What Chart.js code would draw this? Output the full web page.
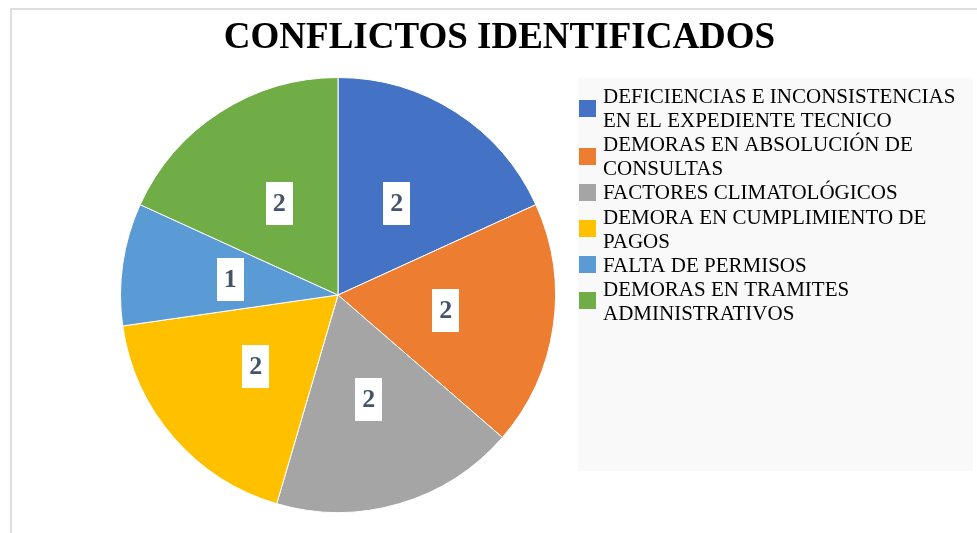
<!DOCTYPE html>
<html>
<head>
<meta charset="utf-8">
<script src="https://cdn.jsdelivr.net/npm/chart.js@4/dist/chart.umd.min.js"></script>
<style>
  html, body { margin: 0; padding: 0; background: #fff; }
  #wrap { position: relative; width: 977px; height: 533px; }
  #frame { position: absolute; left: 10px; top: 8px; right: 0; bottom: 0;
           border-top: 2px solid #dedede; border-left: 2px solid #dedede; }
  canvas { position: absolute; left: 0; top: 0; }
</style>
</head>
<body>
<div id="wrap">
  <div id="frame"></div>
  <canvas id="chart" width="977" height="533"></canvas>
</div>
<script>
const chartTitle = "CONFLICTOS IDENTIFICADOS";

// categories (already split the way the legend wraps them)
const categories = [
  ["DEFICIENCIAS E INCONSISTENCIAS", "EN EL EXPEDIENTE TECNICO"],
  ["DEMORAS EN ABSOLUCIÓN DE", "CONSULTAS"],
  ["FACTORES CLIMATOLÓGICOS"],
  ["DEMORA EN CUMPLIMIENTO DE", "PAGOS"],
  ["FALTA DE PERMISOS"],
  ["DEMORAS EN TRAMITES", "ADMINISTRATIVOS"]
];

const counts = [2, 2, 2, 2, 1, 2];

const sliceColors = ["#4472C4", "#ED7D31", "#A5A5A5", "#FFC000", "#5B9BD5", "#70AD47"];

const serif = '"Liberation Serif", "Times New Roman", serif';

// title, value boxes and the legend panel
const extrasPlugin = {
  id: "extras",
  afterDraw(chart) {
    const ctx = chart.ctx;
    ctx.save();

    // title
    ctx.font = "bold 37px " + serif;
    ctx.fillStyle = "#000";
    ctx.textAlign = "center";
    ctx.textBaseline = "alphabetic";
    ctx.fillText(chartTitle, 499.5, 48);

    // value labels in white boxes
    const meta = chart.getDatasetMeta(0);
    ctx.font = "bold 26px " + serif;
    ctx.textBaseline = "middle";
    meta.data.forEach((arc, i) => {
      const p = arc.tooltipPosition();
      const txt = String(chart.data.datasets[0].data[i]);
      const w = ctx.measureText(txt).width + 14;
      const h = 43;
      ctx.fillStyle = "#fff";
      ctx.fillRect(Math.round(p.x - w / 2), Math.round(p.y - h / 2), Math.round(w), h);
      ctx.fillStyle = "#44546A";
      ctx.fillText(txt, p.x, p.y + 1);
    });

    // legend panel
    ctx.fillStyle = "#f9f9f9";
    ctx.fillRect(578, 78, 395, 393);
    ctx.font = "21px " + serif;
    ctx.textAlign = "left";
    ctx.textBaseline = "alphabetic";
    const lineH = 24.1;
    let base = 103;
    chart.data.labels.forEach((lines, i) => {
      const first = base;
      lines.forEach(line => {
        ctx.fillStyle = "#000";
        ctx.fillText(line, 603, base);
        base += lineH;
      });
      const last = base - lineH;
      const mid = (first + last) / 2 - 7;
      ctx.fillStyle = sliceColors[i];
      ctx.fillRect(579, Math.round(mid - 8.5), 17, 17);
    });

    ctx.restore();
  }
};

new Chart(document.getElementById("chart"), {
  type: "pie",
  data: {
    labels: categories,
    datasets: [{
      data: counts,
      backgroundColor: sliceColors,
      borderColor: "#ffffff",
      borderWidth: 1
    }]
  },
  options: {
    responsive: false,
    animation: false,
    layout: { padding: { top: 77, bottom: 20, left: 120, right: 421 } },
    plugins: {
      legend: { display: false },
      title: { display: false },
      tooltip: { enabled: false }
    }
  },
  plugins: [extrasPlugin]
});
</script>
</body>
</html>
